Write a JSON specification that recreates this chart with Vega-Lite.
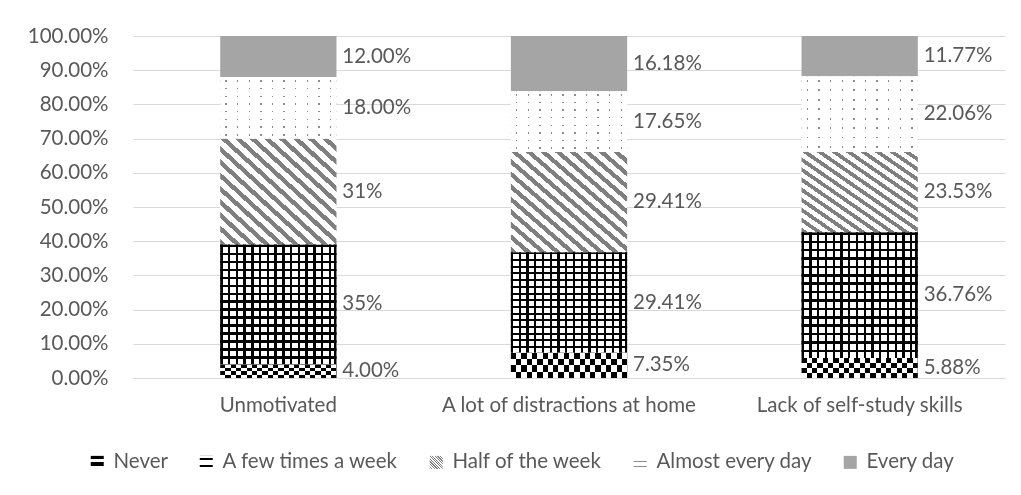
{
  "$schema": "https://vega.github.io/schema/vega-lite/v6.json",
  "width": 872,
  "height": 342,
  "autosize": "none",
  "padding": {"left": 133, "top": 36, "right": 16, "bottom": 117},
  "background": "white",
  "config": {
    "view": {"stroke": null},
    "font": "Lato",
    "axisY": {
      "title": null,
      "values": [0, 0.1, 0.2, 0.3, 0.4, 0.5, 0.6, 0.7, 0.8, 0.9, 1],
      "format": ".2%",
      "domain": false,
      "ticks": false,
      "labelOverlap": false,
      "gridColor": "#d9d9d9",
      "labelPadding": 25,
      "labelFont": "Lato",
      "labelFontSize": 20.5,
      "labelColor": "#595959"
    }
  },
  "data": {
    "values": [
      {"cause": "Unmotivated", "freq": "Never", "idx": 1, "value": 0.04, "label": "4.00%"},
      {"cause": "Unmotivated", "freq": "A few times a week", "idx": 2, "value": 0.35, "label": "35%"},
      {"cause": "Unmotivated", "freq": "Half of the week", "idx": 3, "value": 0.31, "label": "31%"},
      {"cause": "Unmotivated", "freq": "Almost every day", "idx": 4, "value": 0.18, "label": "18.00%"},
      {"cause": "Unmotivated", "freq": "Every day", "idx": 5, "value": 0.12, "label": "12.00%"},
      {"cause": "A lot of distractions at home", "freq": "Never", "idx": 1, "value": 0.0735, "label": "7.35%"},
      {"cause": "A lot of distractions at home", "freq": "A few times a week", "idx": 2, "value": 0.2941, "label": "29.41%"},
      {"cause": "A lot of distractions at home", "freq": "Half of the week", "idx": 3, "value": 0.2941, "label": "29.41%"},
      {"cause": "A lot of distractions at home", "freq": "Almost every day", "idx": 4, "value": 0.1765, "label": "17.65%"},
      {"cause": "A lot of distractions at home", "freq": "Every day", "idx": 5, "value": 0.1618, "label": "16.18%"},
      {"cause": "Lack of self-study skills", "freq": "Never", "idx": 1, "value": 0.0588, "label": "5.88%"},
      {"cause": "Lack of self-study skills", "freq": "A few times a week", "idx": 2, "value": 0.3676, "label": "36.76%"},
      {"cause": "Lack of self-study skills", "freq": "Half of the week", "idx": 3, "value": 0.2353, "label": "23.53%"},
      {"cause": "Lack of self-study skills", "freq": "Almost every day", "idx": 4, "value": 0.2206, "label": "22.06%"},
      {"cause": "Lack of self-study skills", "freq": "Every day", "idx": 5, "value": 0.1177, "label": "11.77%"}
    ]
  },
  "transform": [
    {"stack": "value", "groupby": ["cause"], "sort": [{"field": "idx", "order": "ascending"}], "as": ["y0", "y1"]},
    {"calculate": "(datum.y0 + datum.y1) / 2", "as": "mid"}
  ],
  "encoding": {
    "x": {
      "field": "cause",
      "type": "nominal",
      "sort": ["Unmotivated", "A lot of distractions at home", "Lack of self-study skills"],
      "scale": {"paddingInner": 0.6, "paddingOuter": 0.3},
      "axis": {
        "title": null,
        "labelAngle": 0,
        "ticks": false,
        "domainColor": "#d9d9d9",
        "labelPadding": 17,
        "labelLimit": 0,
        "labelFont": "Lato",
        "labelFontSize": 20.5,
        "labelColor": "#595959"
      }
    }
  },
  "layer": [
    {
      "mark": {"type": "bar"},
      "encoding": {
        "y": {
          "field": "y0",
          "type": "quantitative",
          "scale": {"domain": [0, 1], "nice": false},
          "axis": {"values": [0, 0.1, 0.2, 0.3, 0.4, 0.5, 0.6, 0.7, 0.8, 0.9, 1], "format": ".2%", "labelOverlap": false, "title": null}
        },
        "y2": {"field": "y1"},
        "color": {
          "field": "freq",
          "type": "nominal",
          "scale": {
            "domain": ["Never", "A few times a week", "Half of the week", "Almost every day", "Every day"],
            "range": [
              {"expr": "{gradient:'linear',x1:0,y1:0,x2:0,y2:1,stops:[{offset:0,color:'#000'},{offset:0.25,color:'#000'},{offset:0.25,color:'#fff'},{offset:0.5,color:'#fff'},{offset:0.5,color:'#000'},{offset:0.75,color:'#000'},{offset:0.75,color:'#fff'},{offset:1,color:'#fff'}]}"},
              {"expr": "{gradient:'linear',x1:0,y1:0,x2:0,y2:1,stops:[{offset:0,color:'#000'},{offset:0.02,color:'#000'},{offset:0.02,color:'#fff'},{offset:0.0667,color:'#fff'},{offset:0.0667,color:'#000'},{offset:0.0867,color:'#000'},{offset:0.0867,color:'#fff'},{offset:0.1333,color:'#fff'},{offset:0.1333,color:'#000'},{offset:0.1533,color:'#000'},{offset:0.1533,color:'#fff'},{offset:0.2,color:'#fff'},{offset:0.2,color:'#000'},{offset:0.22,color:'#000'},{offset:0.22,color:'#fff'},{offset:0.2667,color:'#fff'},{offset:0.2667,color:'#000'},{offset:0.2867,color:'#000'},{offset:0.2867,color:'#fff'},{offset:0.3333,color:'#fff'},{offset:0.3333,color:'#000'},{offset:0.3533,color:'#000'},{offset:0.3533,color:'#fff'},{offset:0.4,color:'#fff'},{offset:0.4,color:'#000'},{offset:0.42,color:'#000'},{offset:0.42,color:'#fff'},{offset:0.4667,color:'#fff'},{offset:0.4667,color:'#000'},{offset:0.4867,color:'#000'},{offset:0.4867,color:'#fff'},{offset:0.5333,color:'#fff'},{offset:0.5333,color:'#000'},{offset:0.5533,color:'#000'},{offset:0.5533,color:'#fff'},{offset:0.6,color:'#fff'},{offset:0.6,color:'#000'},{offset:0.62,color:'#000'},{offset:0.62,color:'#fff'},{offset:0.6667,color:'#fff'},{offset:0.6667,color:'#000'},{offset:0.6867,color:'#000'},{offset:0.6867,color:'#fff'},{offset:0.7333,color:'#fff'},{offset:0.7333,color:'#000'},{offset:0.7533,color:'#000'},{offset:0.7533,color:'#fff'},{offset:0.8,color:'#fff'},{offset:0.8,color:'#000'},{offset:0.82,color:'#000'},{offset:0.82,color:'#fff'},{offset:0.8667,color:'#fff'},{offset:0.8667,color:'#000'},{offset:0.8867,color:'#000'},{offset:0.8867,color:'#fff'},{offset:0.9333,color:'#fff'},{offset:0.9333,color:'#000'},{offset:0.9533,color:'#000'},{offset:0.9533,color:'#fff'},{offset:1,color:'#fff'}]}"},
              {"expr": "{gradient:'linear',x1:0,y1:1,x2:1,y2:0,stops:[{offset:0,color:'#7f7f7f'},{offset:0.028,color:'#7f7f7f'},{offset:0.028,color:'#fff'},{offset:0.0625,color:'#fff'},{offset:0.0625,color:'#7f7f7f'},{offset:0.0905,color:'#7f7f7f'},{offset:0.0905,color:'#fff'},{offset:0.125,color:'#fff'},{offset:0.125,color:'#7f7f7f'},{offset:0.153,color:'#7f7f7f'},{offset:0.153,color:'#fff'},{offset:0.1875,color:'#fff'},{offset:0.1875,color:'#7f7f7f'},{offset:0.2155,color:'#7f7f7f'},{offset:0.2155,color:'#fff'},{offset:0.25,color:'#fff'},{offset:0.25,color:'#7f7f7f'},{offset:0.278,color:'#7f7f7f'},{offset:0.278,color:'#fff'},{offset:0.3125,color:'#fff'},{offset:0.3125,color:'#7f7f7f'},{offset:0.3405,color:'#7f7f7f'},{offset:0.3405,color:'#fff'},{offset:0.375,color:'#fff'},{offset:0.375,color:'#7f7f7f'},{offset:0.403,color:'#7f7f7f'},{offset:0.403,color:'#fff'},{offset:0.4375,color:'#fff'},{offset:0.4375,color:'#7f7f7f'},{offset:0.4655,color:'#7f7f7f'},{offset:0.4655,color:'#fff'},{offset:0.5,color:'#fff'},{offset:0.5,color:'#7f7f7f'},{offset:0.528,color:'#7f7f7f'},{offset:0.528,color:'#fff'},{offset:0.5625,color:'#fff'},{offset:0.5625,color:'#7f7f7f'},{offset:0.5905,color:'#7f7f7f'},{offset:0.5905,color:'#fff'},{offset:0.625,color:'#fff'},{offset:0.625,color:'#7f7f7f'},{offset:0.653,color:'#7f7f7f'},{offset:0.653,color:'#fff'},{offset:0.6875,color:'#fff'},{offset:0.6875,color:'#7f7f7f'},{offset:0.7155,color:'#7f7f7f'},{offset:0.7155,color:'#fff'},{offset:0.75,color:'#fff'},{offset:0.75,color:'#7f7f7f'},{offset:0.778,color:'#7f7f7f'},{offset:0.778,color:'#fff'},{offset:0.8125,color:'#fff'},{offset:0.8125,color:'#7f7f7f'},{offset:0.8405,color:'#7f7f7f'},{offset:0.8405,color:'#fff'},{offset:0.875,color:'#fff'},{offset:0.875,color:'#7f7f7f'},{offset:0.903,color:'#7f7f7f'},{offset:0.903,color:'#fff'},{offset:0.9375,color:'#fff'},{offset:0.9375,color:'#7f7f7f'},{offset:0.9655,color:'#7f7f7f'},{offset:0.9655,color:'#fff'},{offset:1,color:'#fff'}]}"},
              {"expr": "{gradient:'linear',x1:0,y1:0,x2:0,y2:1,stops:[{offset:0,color:'#fff'},{offset:0.05,color:'#fff'},{offset:0.05,color:'#8c8c8c'},{offset:0.075,color:'#8c8c8c'},{offset:0.075,color:'#fff'},{offset:0.175,color:'#fff'},{offset:0.175,color:'#8c8c8c'},{offset:0.2,color:'#8c8c8c'},{offset:0.2,color:'#fff'},{offset:0.3,color:'#fff'},{offset:0.3,color:'#8c8c8c'},{offset:0.325,color:'#8c8c8c'},{offset:0.325,color:'#fff'},{offset:0.425,color:'#fff'},{offset:0.425,color:'#8c8c8c'},{offset:0.45,color:'#8c8c8c'},{offset:0.45,color:'#fff'},{offset:0.55,color:'#fff'},{offset:0.55,color:'#8c8c8c'},{offset:0.575,color:'#8c8c8c'},{offset:0.575,color:'#fff'},{offset:0.675,color:'#fff'},{offset:0.675,color:'#8c8c8c'},{offset:0.7,color:'#8c8c8c'},{offset:0.7,color:'#fff'},{offset:0.8,color:'#fff'},{offset:0.8,color:'#8c8c8c'},{offset:0.825,color:'#8c8c8c'},{offset:0.825,color:'#fff'},{offset:0.925,color:'#fff'},{offset:0.925,color:'#8c8c8c'},{offset:0.95,color:'#8c8c8c'},{offset:0.95,color:'#fff'},{offset:1,color:'#fff'}]}"},
              "#a5a5a5"
            ]
          },
          "legend": {
            "orient": "none",
            "legendX": -46,
            "legendY": 416,
            "direction": "horizontal",
            "columns": 5,
            "title": null,
            "symbolType": "square",
            "symbolSize": 169,
            "symbolStrokeWidth": 0,
            "labelFont": "Lato",
            "labelFontSize": 20.5,
            "labelColor": "#595959",
            "labelLimit": 0,
            "labelOffset": 6,
            "columnPadding": 27,
            "padding": 0
          }
        }
      }
    },
    {
      "mark": {"type": "bar"},
      "encoding": {
        "y": {"field": "y0", "type": "quantitative", "axis": {"values": [0, 0.1, 0.2, 0.3, 0.4, 0.5, 0.6, 0.7, 0.8, 0.9, 1], "format": ".2%", "labelOverlap": false, "title": null}},
        "y2": {"field": "y1"},
        "fill": {
          "condition": [
            {
              "test": "datum.freq === 'A few times a week'",
              "value": {"gradient": "linear", "x1": 0, "y1": 0, "x2": 1, "y2": 0, "stops": [
                {"offset": 0, "color": "#000"}, {"offset": 0.02, "color": "#000"}, {"offset": 0.02, "color": "rgba(0,0,0,0)"}, {"offset": 0.0667, "color": "rgba(0,0,0,0)"},
                {"offset": 0.0667, "color": "#000"}, {"offset": 0.0867, "color": "#000"}, {"offset": 0.0867, "color": "rgba(0,0,0,0)"}, {"offset": 0.1333, "color": "rgba(0,0,0,0)"},
                {"offset": 0.1333, "color": "#000"}, {"offset": 0.1533, "color": "#000"}, {"offset": 0.1533, "color": "rgba(0,0,0,0)"}, {"offset": 0.2, "color": "rgba(0,0,0,0)"},
                {"offset": 0.2, "color": "#000"}, {"offset": 0.22, "color": "#000"}, {"offset": 0.22, "color": "rgba(0,0,0,0)"}, {"offset": 0.2667, "color": "rgba(0,0,0,0)"},
                {"offset": 0.2667, "color": "#000"}, {"offset": 0.2867, "color": "#000"}, {"offset": 0.2867, "color": "rgba(0,0,0,0)"}, {"offset": 0.3333, "color": "rgba(0,0,0,0)"},
                {"offset": 0.3333, "color": "#000"}, {"offset": 0.3533, "color": "#000"}, {"offset": 0.3533, "color": "rgba(0,0,0,0)"}, {"offset": 0.4, "color": "rgba(0,0,0,0)"},
                {"offset": 0.4, "color": "#000"}, {"offset": 0.42, "color": "#000"}, {"offset": 0.42, "color": "rgba(0,0,0,0)"}, {"offset": 0.4667, "color": "rgba(0,0,0,0)"},
                {"offset": 0.4667, "color": "#000"}, {"offset": 0.4867, "color": "#000"}, {"offset": 0.4867, "color": "rgba(0,0,0,0)"}, {"offset": 0.5333, "color": "rgba(0,0,0,0)"},
                {"offset": 0.5333, "color": "#000"}, {"offset": 0.5533, "color": "#000"}, {"offset": 0.5533, "color": "rgba(0,0,0,0)"}, {"offset": 0.6, "color": "rgba(0,0,0,0)"},
                {"offset": 0.6, "color": "#000"}, {"offset": 0.62, "color": "#000"}, {"offset": 0.62, "color": "rgba(0,0,0,0)"}, {"offset": 0.6667, "color": "rgba(0,0,0,0)"},
                {"offset": 0.6667, "color": "#000"}, {"offset": 0.6867, "color": "#000"}, {"offset": 0.6867, "color": "rgba(0,0,0,0)"}, {"offset": 0.7333, "color": "rgba(0,0,0,0)"},
                {"offset": 0.7333, "color": "#000"}, {"offset": 0.7533, "color": "#000"}, {"offset": 0.7533, "color": "rgba(0,0,0,0)"}, {"offset": 0.8, "color": "rgba(0,0,0,0)"},
                {"offset": 0.8, "color": "#000"}, {"offset": 0.82, "color": "#000"}, {"offset": 0.82, "color": "rgba(0,0,0,0)"}, {"offset": 0.8667, "color": "rgba(0,0,0,0)"},
                {"offset": 0.8667, "color": "#000"}, {"offset": 0.8867, "color": "#000"}, {"offset": 0.8867, "color": "rgba(0,0,0,0)"}, {"offset": 0.9333, "color": "rgba(0,0,0,0)"},
                {"offset": 0.9333, "color": "#000"}, {"offset": 0.9533, "color": "#000"}, {"offset": 0.9533, "color": "rgba(0,0,0,0)"}, {"offset": 0.98, "color": "rgba(0,0,0,0)"},
                {"offset": 0.98, "color": "#000"}, {"offset": 1, "color": "#000"}
              ]}
            },
            {
              "test": "datum.freq === 'Almost every day'",
              "value": {"gradient": "linear", "x1": 0, "y1": 0, "x2": 1, "y2": 0, "stops": [
                {"offset": 0, "color": "#fff"}, {"offset": 0.044, "color": "#fff"}, {"offset": 0.044, "color": "rgba(0,0,0,0)"}, {"offset": 0.056, "color": "rgba(0,0,0,0)"}, {"offset": 0.056, "color": "#fff"},
                {"offset": 0.144, "color": "#fff"}, {"offset": 0.144, "color": "rgba(0,0,0,0)"}, {"offset": 0.156, "color": "rgba(0,0,0,0)"}, {"offset": 0.156, "color": "#fff"},
                {"offset": 0.244, "color": "#fff"}, {"offset": 0.244, "color": "rgba(0,0,0,0)"}, {"offset": 0.256, "color": "rgba(0,0,0,0)"}, {"offset": 0.256, "color": "#fff"},
                {"offset": 0.344, "color": "#fff"}, {"offset": 0.344, "color": "rgba(0,0,0,0)"}, {"offset": 0.356, "color": "rgba(0,0,0,0)"}, {"offset": 0.356, "color": "#fff"},
                {"offset": 0.444, "color": "#fff"}, {"offset": 0.444, "color": "rgba(0,0,0,0)"}, {"offset": 0.456, "color": "rgba(0,0,0,0)"}, {"offset": 0.456, "color": "#fff"},
                {"offset": 0.544, "color": "#fff"}, {"offset": 0.544, "color": "rgba(0,0,0,0)"}, {"offset": 0.556, "color": "rgba(0,0,0,0)"}, {"offset": 0.556, "color": "#fff"},
                {"offset": 0.644, "color": "#fff"}, {"offset": 0.644, "color": "rgba(0,0,0,0)"}, {"offset": 0.656, "color": "rgba(0,0,0,0)"}, {"offset": 0.656, "color": "#fff"},
                {"offset": 0.744, "color": "#fff"}, {"offset": 0.744, "color": "rgba(0,0,0,0)"}, {"offset": 0.756, "color": "rgba(0,0,0,0)"}, {"offset": 0.756, "color": "#fff"},
                {"offset": 0.844, "color": "#fff"}, {"offset": 0.844, "color": "rgba(0,0,0,0)"}, {"offset": 0.856, "color": "rgba(0,0,0,0)"}, {"offset": 0.856, "color": "#fff"},
                {"offset": 0.944, "color": "#fff"}, {"offset": 0.944, "color": "rgba(0,0,0,0)"}, {"offset": 0.956, "color": "rgba(0,0,0,0)"}, {"offset": 0.956, "color": "#fff"},
                {"offset": 1, "color": "#fff"}
              ]}
            }
          ],
          "value": "transparent"
        }
      }
    },
    {
      "mark": {"type": "bar", "blend": "difference"},
      "encoding": {
        "y": {"field": "y0", "type": "quantitative", "axis": {"values": [0, 0.1, 0.2, 0.3, 0.4, 0.5, 0.6, 0.7, 0.8, 0.9, 1], "format": ".2%", "labelOverlap": false, "title": null}},
        "y2": {"field": "y1"},
        "fill": {
          "condition": {
            "test": "datum.freq === 'Never'",
            "value": {"gradient": "linear", "x1": 0, "y1": 0, "x2": 1, "y2": 0, "stops": [
              {"offset": 0, "color": "rgba(0,0,0,0)"}, {"offset": 0.0455, "color": "rgba(0,0,0,0)"}, {"offset": 0.0455, "color": "#fff"}, {"offset": 0.0909, "color": "#fff"},
              {"offset": 0.0909, "color": "rgba(0,0,0,0)"}, {"offset": 0.1364, "color": "rgba(0,0,0,0)"}, {"offset": 0.1364, "color": "#fff"}, {"offset": 0.1818, "color": "#fff"},
              {"offset": 0.1818, "color": "rgba(0,0,0,0)"}, {"offset": 0.2273, "color": "rgba(0,0,0,0)"}, {"offset": 0.2273, "color": "#fff"}, {"offset": 0.2727, "color": "#fff"},
              {"offset": 0.2727, "color": "rgba(0,0,0,0)"}, {"offset": 0.3182, "color": "rgba(0,0,0,0)"}, {"offset": 0.3182, "color": "#fff"}, {"offset": 0.3636, "color": "#fff"},
              {"offset": 0.3636, "color": "rgba(0,0,0,0)"}, {"offset": 0.4091, "color": "rgba(0,0,0,0)"}, {"offset": 0.4091, "color": "#fff"}, {"offset": 0.4545, "color": "#fff"},
              {"offset": 0.4545, "color": "rgba(0,0,0,0)"}, {"offset": 0.5, "color": "rgba(0,0,0,0)"}, {"offset": 0.5, "color": "#fff"}, {"offset": 0.5455, "color": "#fff"},
              {"offset": 0.5455, "color": "rgba(0,0,0,0)"}, {"offset": 0.5909, "color": "rgba(0,0,0,0)"}, {"offset": 0.5909, "color": "#fff"}, {"offset": 0.6364, "color": "#fff"},
              {"offset": 0.6364, "color": "rgba(0,0,0,0)"}, {"offset": 0.6818, "color": "rgba(0,0,0,0)"}, {"offset": 0.6818, "color": "#fff"}, {"offset": 0.7273, "color": "#fff"},
              {"offset": 0.7273, "color": "rgba(0,0,0,0)"}, {"offset": 0.7727, "color": "rgba(0,0,0,0)"}, {"offset": 0.7727, "color": "#fff"}, {"offset": 0.8182, "color": "#fff"},
              {"offset": 0.8182, "color": "rgba(0,0,0,0)"}, {"offset": 0.8636, "color": "rgba(0,0,0,0)"}, {"offset": 0.8636, "color": "#fff"}, {"offset": 0.9091, "color": "#fff"},
              {"offset": 0.9091, "color": "rgba(0,0,0,0)"}, {"offset": 0.9545, "color": "rgba(0,0,0,0)"}, {"offset": 0.9545, "color": "#fff"}, {"offset": 1, "color": "#fff"}
            ]}
          },
          "value": "transparent"
        }
      }
    },
    {
      "mark": {"type": "text", "align": "left", "baseline": "middle", "dx": 64, "font": "Lato", "fontSize": 20.5, "fill": "#595959"},
      "encoding": {
        "y": {"field": "mid", "type": "quantitative", "axis": {"values": [0, 0.1, 0.2, 0.3, 0.4, 0.5, 0.6, 0.7, 0.8, 0.9, 1], "format": ".2%", "labelOverlap": false, "title": null}},
        "text": {"field": "label", "type": "nominal"}
      }
    }
  ]
}
